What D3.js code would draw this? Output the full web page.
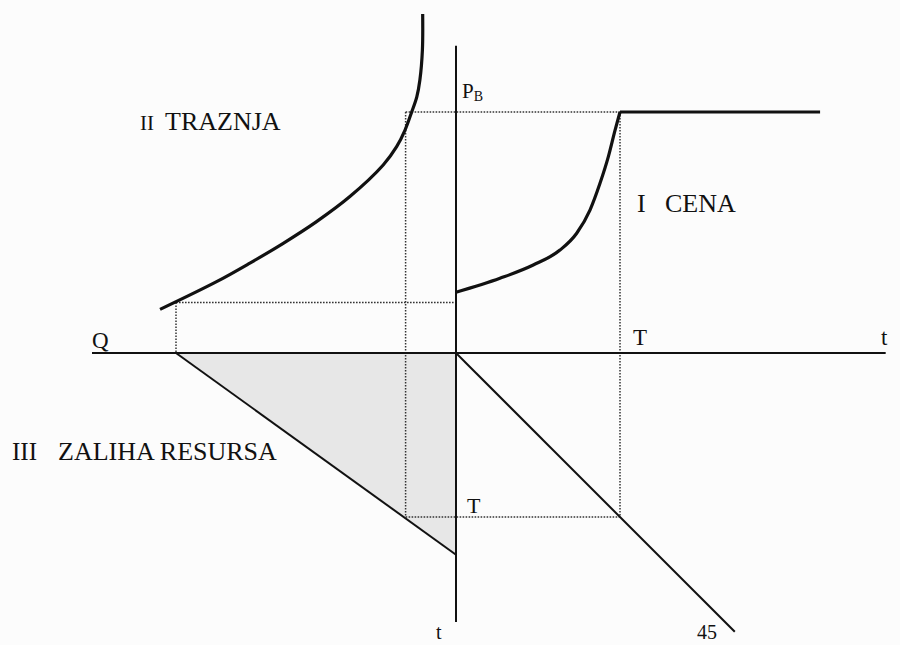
<!DOCTYPE html>
<html lang="en">
<head>
<meta charset="UTF-8">
<title>Cena, traznja, zaliha resursa</title>
<script src="https://cdn.jsdelivr.net/npm/d3@7"></script>
<style>
    body { margin: 0; background: #fcfcfc; }
    svg text { font-family: "Liberation Serif", "DejaVu Serif", serif; fill: #111; }
</style>
</head>
<body>
<svg id="svg" width="900" height="645"></svg>
<script>
    // values: price p (PB = 100), quantity q (Q0 = 100), time t (T = 100)
    const T = 100, PB = 100, Q0 = 100;
    const qB = 18;            // quantity demanded at the backstop price
    const p0 = 21;            // price level marked for the whole stock

    // II TRAZNJA: demand curve [q, p]
    const demand = [[105.7, 18.1], [85.5, 29.6], [73.6, 37.3], [61.7, 45.5], [49.8, 54.5],
                    [37.9, 64.9], [26, 78], [21.2, 85.6], [18.2, 92.5],
                    [15.8, 100.1], [14, 106.3], [12.9, 113.3], [12, 125.7], [11.9, 140.7]];
    // I CENA: price path [t, p]
    const price = [[0, 25.2], [26.8, 31], [47.1, 36.5], [63.4, 42.7], [73.6, 49.7],
                   [81.7, 59.3], [87.8, 70.4], [92.9, 81.5], [97, 92.5], [100, 100]];
    const backstop = [[100, 100], [222, 100]];
    // III ZALIHA RESURSA: remaining stock [q, t]
    const stock = [[Q0, 0], [0, 123]];
    const diagonal = [[0, 0], [170, 170]];   // 45 degree line [t, t]

    const svg = d3.select("#svg");
    const ox = 456, oy = 353;

    const x = d3.scaleLinear().domain([0, T]).range([ox, 620]);        // t to the right
    const q = d3.scaleLinear().domain([0, Q0]).range([ox, 176]);       // Q to the left
    const y = d3.scaleLinear().domain([0, PB]).range([oy, 112]);       // price up
    const yt = d3.scaleLinear().domain([0, T]).range([oy, oy + (620 - ox)]); // t down

    const ink = "#111";

    // shaded stock triangle
    svg.append("path")
        .attr("d", d3.line()([[q(Q0), yt(0)], [q(0), yt(0)], [q(stock[1][0]), yt(stock[1][1])]]) + "Z")
        .attr("fill", "#e7e7e7");

    // dotted guides
    const dotted = [
        [[q(qB), y(PB)], [x(T), y(PB)]],
        [[q(qB), y(PB)], [q(qB), yt(T)]],
        [[x(T), y(PB)], [x(T), yt(T)]],
        [[q(qB), yt(T)], [x(T), yt(T)]],
        [[q(Q0), y(p0)], [q(0), y(p0)]],
        [[q(Q0), y(p0)], [q(Q0), y(0)]]
    ];
    svg.selectAll(".dot").data(dotted).join("path")
        .attr("d", d => d3.line()(d))
        .attr("stroke", "#333").attr("stroke-width", 1.5)
        .attr("stroke-dasharray", "1.6,1.4").attr("fill", "none");

    // axes
    svg.append("line").attr("x1", q(130)).attr("x2", x(262)).attr("y1", oy).attr("y2", oy)
        .attr("stroke", ink).attr("stroke-width", 2);
    svg.append("line").attr("x1", ox).attr("x2", ox).attr("y1", y(127.5)).attr("y2", yt(164))
        .attr("stroke", ink).attr("stroke-width", 2);

    // stock line and 45 degree line
    svg.append("path").attr("d", d3.line().x(d => q(d[0])).y(d => yt(d[1]))(stock))
        .attr("stroke", ink).attr("stroke-width", 2).attr("fill", "none");
    svg.append("path").attr("d", d3.line().x(d => x(d[0])).y(d => yt(d[1]))(diagonal))
        .attr("stroke", ink).attr("stroke-width", 2).attr("fill", "none");

    // demand curve
    svg.append("path")
        .attr("d", d3.line().x(d => q(d[0])).y(d => y(d[1])).curve(d3.curveCatmullRom.alpha(0.5))(demand))
        .attr("stroke", ink).attr("stroke-width", 3.2).attr("fill", "none");

    // price path and backstop
    svg.append("path")
        .attr("d", d3.line().x(d => x(d[0])).y(d => y(d[1])).curve(d3.curveMonotoneX)(price))
        .attr("stroke", ink).attr("stroke-width", 3.2).attr("fill", "none");
    svg.append("path")
        .attr("d", d3.line().x(d => x(d[0])).y(d => y(d[1]))(backstop))
        .attr("stroke", ink).attr("stroke-width", 3.2).attr("fill", "none");

    // labels
    const label = (tx, ty, s, size) => svg.append("text")
        .attr("x", tx).attr("y", ty).attr("font-size", size).text(s);

    label(140, 130, "II", 21);
    label(165, 130, "TRAZNJA", 26);
    label(637, 212, "I", 26);
    label(665, 212, "CENA", 26);
    label(12, 460, "III", 25);
    label(58, 460, "ZALIHA RESURSA", 26);
    label(92, 348, "Q", 23);
    label(633, 345, "T", 23);
    label(881, 345, "t", 23);
    label(467, 513, "T", 22);
    label(436, 639, "t", 20);
    label(697, 639, "45", 20);
    const pb = svg.append("text").attr("x", 462).attr("y", 98).attr("font-size", 21);
    pb.append("tspan").text("P");
    pb.append("tspan").attr("font-size", 14).attr("dy", 3).text("B");
</script>
</body>
</html>
